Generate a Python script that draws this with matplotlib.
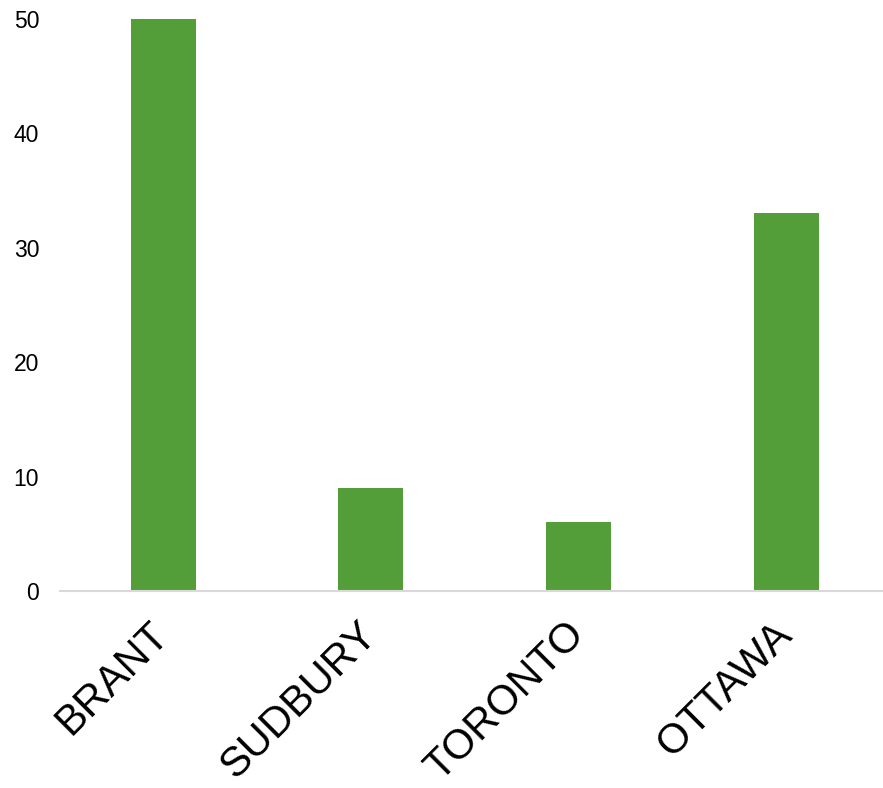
import matplotlib
matplotlib.use("Agg")
import matplotlib.pyplot as plt

plt.rcParams['font.family'] = ['Liberation Sans', 'DejaVu Sans']

# Counts per region
regions = ['BRANT', 'SUDBURY', 'TORONTO', 'OTTAWA']
counts = [50, 9, 6, 33]
y_ticks = [0, 10, 20, 30, 40, 50]

bar_color = '#549E39'
grid_color = '#D9D9D9'

fig = plt.figure(figsize=(8.83, 7.88), dpi=100)
ax = fig.add_axes([60 / 883, 1 - 591 / 788, 823 / 883, 591 / 788])

x = list(range(len(regions)))
ax.bar(x, counts, width=0.313, color=bar_color, zorder=2)

ax.set_xlim(-0.496, 3.467)
ax.set_ylim(0, 51.66)
ax.set_yticks(y_ticks)
ax.set_yticklabels([str(v) for v in y_ticks], fontsize=16.5)
ax.set_xticks(x)
ax.set_xticklabels(regions, fontsize=30, rotation=45, ha='right', va='center',
                   rotation_mode='anchor')
ax.tick_params(axis='y', length=0, pad=15)
ax.tick_params(axis='x', length=0, pad=27)

for side in ['top', 'right', 'left']:
    ax.spines[side].set_visible(False)
ax.spines['bottom'].set_color(grid_color)
ax.spines['bottom'].set_linewidth(1.5)

fig.savefig('out.png', dpi=100)
